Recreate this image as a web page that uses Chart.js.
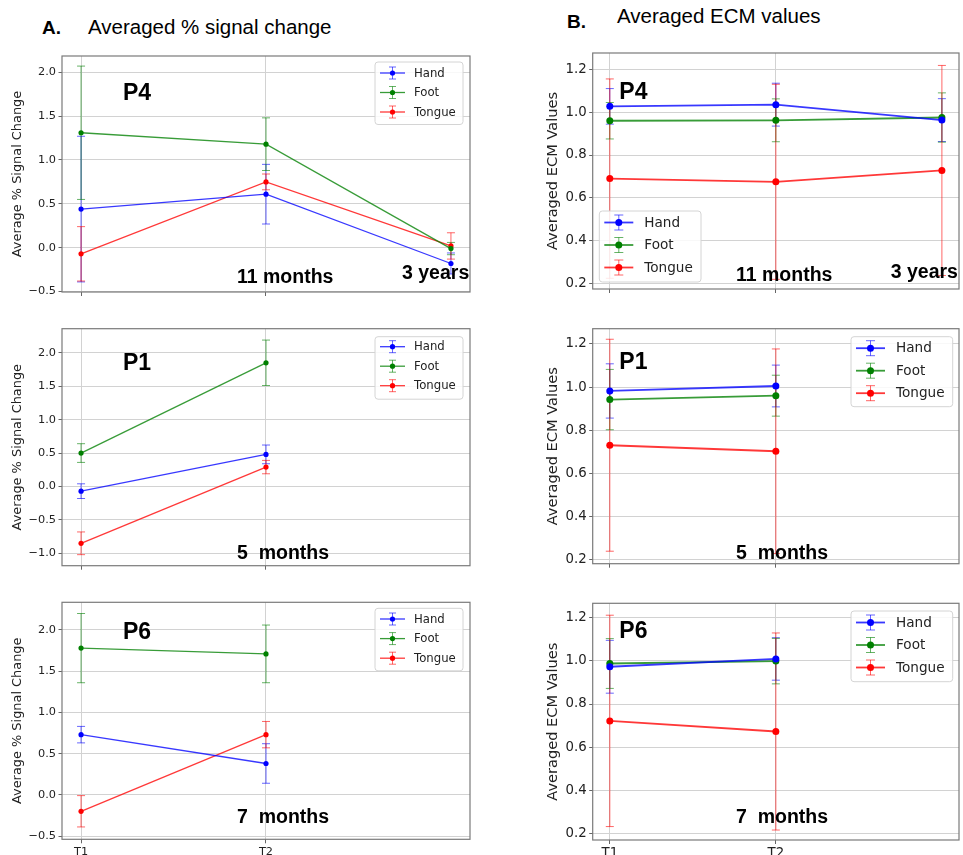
<!DOCTYPE html>
<html>
<head>
<meta charset="utf-8">
<script src="https://cdn.jsdelivr.net/npm/chart.js@4.4.0/dist/chart.umd.min.js"></script>
<style>
  body { margin: 0; background: #fff; }
  #fig { position: relative; width: 963px; height: 855px; overflow: hidden; }
  #fig canvas { position: absolute; }
  .lbl { position: absolute; white-space: pre; font-family: "Liberation Sans", Arial, sans-serif; line-height: 1; color: #000; }
</style>
</head>
<body>
<div id="fig"></div>
<script>
// time points and tasks
const timeLabels = ["T1", "T2", "T3"];
const tasks = ["Hand", "Foot", "Tongue"];

// A. averaged % signal change (means and error bar half-lengths)
const p4PscHand = [0.44, 0.61, -0.18];
const p4PscHandErr = [0.83, 0.34, 0.12];
const p4PscFoot = [1.31, 1.18, -0.01];
const p4PscFootErr = [0.76, 0.30, 0.07];
const p4PscTongue = [-0.07, 0.75, 0.02];
const p4PscTongueErr = [0.31, 0.09, 0.15];

const p1PscHand = [-0.07, 0.48];
const p1PscHandErr = [0.11, 0.14];
const p1PscFoot = [0.50, 1.85];
const p1PscFootErr = [0.14, 0.34];
const p1PscTongue = [-0.85, 0.29];
const p1PscTongueErr = [0.17, 0.10];

const p6PscHand = [0.73, 0.38];
const p6PscHandErr = [0.10, 0.24];
const p6PscFoot = [1.78, 1.71];
const p6PscFootErr = [0.42, 0.35];
const p6PscTongue = [-0.20, 0.73];
const p6PscTongueErr = [0.19, 0.16];

// B. averaged ECM values
const p4EcmHand = [1.027, 1.035, 0.963];
const p4EcmHandErr = [0.083, 0.10, 0.10];
const p4EcmFoot = [0.960, 0.962, 0.975];
const p4EcmFootErr = [0.085, 0.10, 0.115];
const p4EcmTongue = [0.690, 0.675, 0.728];
const p4EcmTongueErr = [0.465, 0.455, 0.49];

const p1EcmHand = [0.982, 1.005];
const p1EcmHandErr = [0.126, 0.097];
const p1EcmFoot = [0.942, 0.960];
const p1EcmFootErr = [0.14, 0.095];
const p1EcmTongue = [0.730, 0.702];
const p1EcmTongueErr = [0.492, 0.475];

const p6EcmHand = [0.972, 1.008];
const p6EcmHandErr = [0.122, 0.098];
const p6EcmFoot = [0.987, 0.998];
const p6EcmFootErr = [0.115, 0.105];
const p6EcmTongue = [0.722, 0.673];
const p6EcmTongueErr = [0.488, 0.455];

// tick values
const pscTicksP4 = [-0.5, 0, 0.5, 1, 1.5, 2];
const pscTicksP1 = [-1, -0.5, 0, 0.5, 1, 1.5, 2];
const pscTicksP6 = [-0.5, 0, 0.5, 1, 1.5, 2];
const ecmTicks = [0.2, 0.4, 0.6, 0.8, 1.0, 1.2];

const taskColors = [[0, 0, 255], [0, 128, 0], [255, 0, 0]];

Chart.defaults.font.family = '"DejaVu Sans", sans-serif';
Chart.defaults.color = '#222';

const errorBars = {
  id: 'errorBars',
  beforeDatasetsDraw(chart, args, opts) {
    const ctx = chart.ctx, ca = chart.chartArea;
    const xs = chart.scales.x, ys = chart.scales.y;
    ctx.save();
    ctx.beginPath();
    ctx.rect(ca.left, ca.top, ca.right - ca.left, ca.bottom - ca.top);
    ctx.clip();
    chart.data.datasets.forEach(ds => {
      ctx.strokeStyle = ds.errColor;
      ctx.lineWidth = 1;
      ds.data.forEach((p, i) => {
        const e = ds.errors[i];
        const px = xs.getPixelForValue(p.x);
        const t = ys.getPixelForValue(p.y + e);
        const b = ys.getPixelForValue(p.y - e);
        ctx.beginPath();
        ctx.moveTo(px, t); ctx.lineTo(px, b);
        ctx.moveTo(px - opts.cap, t); ctx.lineTo(px + opts.cap, t);
        ctx.moveTo(px - opts.cap, b); ctx.lineTo(px + opts.cap, b);
        ctx.stroke();
      });
    });
    ctx.restore();
  }
};

const frame = {
  id: 'frame',
  afterDraw(chart) {
    const ctx = chart.ctx, ca = chart.chartArea;
    ctx.save();
    ctx.strokeStyle = '#7a7a7a';
    ctx.lineWidth = 1.2;
    ctx.strokeRect(ca.left, ca.top, ca.right - ca.left, ca.bottom - ca.top);
    ctx.restore();
  }
};

const boxLegend = {
  id: 'boxLegend',
  afterDraw(chart, args, o) {
    const ctx = chart.ctx, ca = chart.chartArea;
    let left, top;
    if (o.anchor === 'tr') { left = ca.right - o.dx - o.w; top = ca.top + o.dy; }
    else { left = ca.left + o.dx; top = ca.bottom - o.dy - o.h; }
    ctx.save();
    ctx.beginPath();
    ctx.roundRect(left, top, o.w, o.h, 3);
    ctx.fillStyle = 'rgba(255,255,255,0.85)';
    ctx.fill();
    ctx.strokeStyle = '#d4d4d4';
    ctx.lineWidth = 1;
    ctx.stroke();
    chart.data.datasets.forEach((ds, i) => {
      const y = top + o.first + i * o.gap;
      const mx = left + (o.x0 + o.x1) / 2;
      ctx.strokeStyle = ds.errColor;
      ctx.lineWidth = 1;
      ctx.beginPath();
      ctx.moveTo(mx, y - o.eh); ctx.lineTo(mx, y + o.eh);
      ctx.moveTo(mx - o.cap, y - o.eh); ctx.lineTo(mx + o.cap, y - o.eh);
      ctx.moveTo(mx - o.cap, y + o.eh); ctx.lineTo(mx + o.cap, y + o.eh);
      ctx.stroke();
      ctx.strokeStyle = ds.borderColor;
      ctx.lineWidth = ds.borderWidth;
      ctx.beginPath();
      ctx.moveTo(left + o.x0, y); ctx.lineTo(left + o.x1, y);
      ctx.stroke();
      ctx.fillStyle = ds.pointBackgroundColor;
      ctx.beginPath();
      ctx.arc(mx, y, ds.pointRadius, 0, Math.PI * 2);
      ctx.fill();
      ctx.fillStyle = '#222';
      ctx.font = o.font + 'px "DejaVu Sans"';
      ctx.textBaseline = 'middle';
      ctx.fillText(ds.label, left + o.tx, y + 0.5);
    });
    ctx.restore();
  }
};

const fmt = v => (Math.abs(v) < 1e-9 ? 0 : v).toFixed(1).replace('-', '\u2212');

function panel(p) {
  const cv = document.createElement('canvas');
  cv.width = p.w; cv.height = p.h;
  cv.style.left = p.left + 'px'; cv.style.top = p.top + 'px';
  document.getElementById('fig').appendChild(cv);

  const datasets = p.series.map((s, i) => {
    const c = taskColors[i].join(',');
    return {
      label: tasks[i],
      data: s[0].map((v, k) => ({ x: k, y: v })),
      errors: s[1],
      errColor: 'rgba(' + c + ',0.6)',
      borderColor: 'rgba(' + c + ',0.78)',
      borderWidth: p.lw,
      pointBackgroundColor: 'rgb(' + c + ')',
      pointBorderWidth: 0,
      pointRadius: p.pr,
      tension: 0
    };
  });

  new Chart(cv, {
    type: 'line',
    data: { datasets: datasets },
    plugins: [errorBars, frame, boxLegend],
    options: {
      responsive: false,
      animation: false,
      devicePixelRatio: 1,
      layout: { padding: p.pad },
      plugins: {
        legend: { display: false },
        tooltip: { enabled: false },
        errorBars: { cap: 4 },
        boxLegend: p.legend
      },
      scales: {
        x: {
          type: 'linear',
          min: -0.103, max: 2.103,
          afterBuildTicks: s => { s.ticks = [{ value: 0 }, { value: 1 }]; },
          afterFit: s => { s.height = p.xH; },
          ticks: {
            padding: 2,
            font: { size: p.tick },
            callback: v => p.showX ? timeLabels[v] : ''
          },
          grid: { color: '#d2d2d2', tickColor: '#666', tickLength: 4 },
          border: { display: false }
        },
        y: {
          min: p.yMin, max: p.yMax,
          afterBuildTicks: s => { s.ticks = p.yTicks.map(v => ({ value: v })); },
          afterFit: s => { s.width = p.yW; },
          ticks: { padding: 2.5, font: { size: p.tick }, callback: fmt },
          grid: { color: '#d2d2d2', tickColor: '#666', tickLength: 3.5 },
          border: { display: false },
          title: {
            display: true,
            text: p.yTitle,
            font: { size: p.titleSize },
            color: '#222',
            padding: { top: p.titlePad, bottom: 0 }
          }
        }
      }
    }
  });
}

const legA = (dy, first, gap) => ({ anchor: 'tr', dx: 7, dy: dy, w: 88, h: 62.5, first: first, gap: gap,
  x0: 5, x1: 30, tx: 39, font: 11.7, eh: 6, cap: 3.5 });
const legB = (anchor, dx, dy, h) => ({ anchor: anchor, dx: dx, dy: dy, w: 101.7, h: h, first: 11.5, gap: 22.5,
  x0: 5, x1: 34, tx: 45, font: 13.6, eh: 7.5, cap: 4.5 });

const pscTitle = 'Average % Signal Change';
const ecmTitle = 'Averaged ECM Values';

// column A
panel({ left: 0, top: 40, w: 480, h: 265, pad: { top: 16, right: 10, bottom: 5, left: 0 }, xH: 8, yW: 62,
  yMin: -0.505, yMax: 2.185, yTicks: pscTicksP4, showX: false, tick: 11.3, yTitle: pscTitle, titleSize: 12.9, titlePad: 10.3,
  lw: 1.3, pr: 2.6, legend: legA(6, 11, 19.5),
  series: [[p4PscHand, p4PscHandErr], [p4PscFoot, p4PscFootErr], [p4PscTongue, p4PscTongueErr]] });
panel({ left: 0, top: 312, w: 480, h: 268, pad: { top: 16.7, right: 10, bottom: 6.3, left: 0 }, xH: 8, yW: 62,
  yMin: -1.185, yMax: 2.36, yTicks: pscTicksP1, showX: false, tick: 11.3, yTitle: pscTitle, titleSize: 12.9, titlePad: 10.3,
  lw: 1.3, pr: 2.6, legend: legA(8, 10, 19.5),
  series: [[p1PscHand, p1PscHandErr], [p1PscFoot, p1PscFootErr], [p1PscTongue, p1PscTongueErr]] });
panel({ left: 0, top: 588, w: 480, h: 267, pad: { top: 14.3, right: 10, bottom: 0, left: 0 }, xH: 15.7, yW: 62,
  yMin: -0.54, yMax: 2.336, yTicks: pscTicksP6, showX: true, tick: 11.3, yTitle: pscTitle, titleSize: 12.9, titlePad: 10.3,
  lw: 1.3, pr: 2.6, legend: legA(6, 10.7, 19.6),
  series: [[p6PscHand, p6PscHandErr], [p6PscFoot, p6PscFootErr], [p6PscTongue, p6PscTongueErr]] });

// column B
panel({ left: 480, top: 40, w: 483, h: 265, pad: { top: 13, right: 1, bottom: 8, left: 0 }, xH: 8, yW: 112.7,
  yMin: 0.175, yMax: 1.276, yTicks: ecmTicks, showX: false, tick: 13.3, yTitle: ecmTitle, titleSize: 14.6, titlePad: 64,
  lw: 1.8, pr: 3.5, legend: legB('bl', 6.6, 7, 71),
  series: [[p4EcmHand, p4EcmHandErr], [p4EcmFoot, p4EcmFootErr], [p4EcmTongue, p4EcmTongueErr]] });
panel({ left: 480, top: 312, w: 483, h: 268, pad: { top: 16.7, right: 1, bottom: 8.3, left: 0 }, xH: 8, yW: 112.7,
  yMin: 0.18, yMax: 1.271, yTicks: ecmTicks, showX: false, tick: 13.3, yTitle: ecmTitle, titleSize: 14.6, titlePad: 64,
  lw: 1.8, pr: 3.5, legend: legB('tr', 6.3, 8, 70),
  series: [[p1EcmHand, p1EcmHandErr], [p1EcmFoot, p1EcmFootErr], [p1EcmTongue, p1EcmTongueErr]] });
panel({ left: 480, top: 588, w: 483, h: 267, pad: { top: 15.3, right: 1, bottom: 0, left: 0 }, xH: 15, yW: 112.7,
  yMin: 0.172, yMax: 1.265, yTicks: ecmTicks, showX: true, tick: 13.3, yTitle: ecmTitle, titleSize: 14.6, titlePad: 64,
  lw: 1.8, pr: 3.5, legend: legB('tr', 6.3, 7.7, 70.7),
  series: [[p6EcmHand, p6EcmHandErr], [p6EcmFoot, p6EcmFootErr], [p6EcmTongue, p6EcmTongueErr]] });

// text placed by baseline
function label(text, x, baseline, size, bold) {
  const d = document.createElement('div');
  d.className = 'lbl';
  d.textContent = text;
  d.style.left = x + 'px';
  d.style.top = (baseline - 0.8465 * size) + 'px';
  d.style.fontSize = size + 'px';
  d.style.fontWeight = bold ? 'bold' : 'normal';
  document.getElementById('fig').appendChild(d);
}

label('A.', 42, 34.3, 19, true);
label('Averaged % signal change', 88, 34.3, 20.5, false);
label('B.', 567, 28.3, 19, true);
label('Averaged ECM values', 617, 23.3, 20.5, false);

label('P4', 123, 100, 23, true);
label('11 months', 237, 284, 19.5, true);
label('3 years', 402, 279.3, 19.5, true);
label('P4', 619.3, 99, 23, true);
label('11 months', 736, 281.7, 19.5, true);
label('3 years', 890.7, 278.3, 19.5, true);

label('P1', 123, 370, 23, true);
label('5  months', 237, 559.3, 19.5, true);
label('P1', 619.3, 369, 23, true);
label('5  months', 736, 559.3, 19.5, true);

label('P6', 123, 639.3, 23, true);
label('7  months', 237, 823.3, 19.5, true);
label('P6', 619.3, 638.3, 23, true);
label('7  months', 736, 823.3, 19.5, true);
</script>
</body>
</html>
